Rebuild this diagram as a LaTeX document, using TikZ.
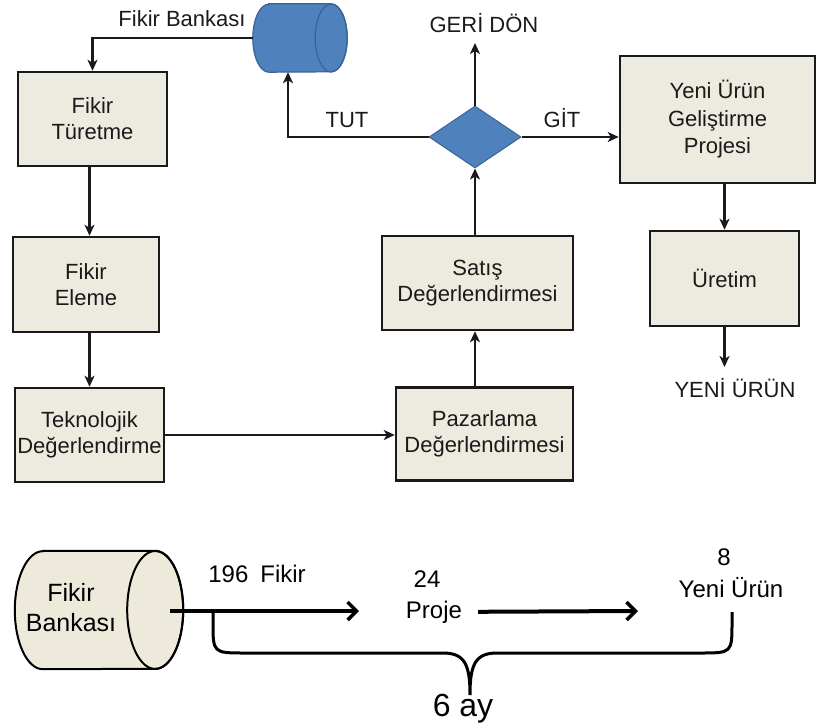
\documentclass[tikz,border=0pt]{standalone}
\usepackage{fontspec}
\setmainfont{Liberation Sans}
\usetikzlibrary{shapes.geometric,arrows.meta,calc}
\definecolor{boxfill}{HTML}{EDEBE0}
\definecolor{cylfill}{HTML}{EEEADB}
\definecolor{blu}{HTML}{4F81BD}
\definecolor{bluborder}{HTML}{3B6396}
\definecolor{ink}{HTML}{1A1A1A}
\begin{document}
\begin{tikzpicture}[x=1pt,y=-1pt,
  procbox/.style={draw=ink, line width=2.5pt, fill=boxfill, align=center, inner sep=0pt,
    font=\fontsize{22}{26}\selectfont, text=ink},
  arr/.style={draw=ink, line width=2.4pt, -{Stealth[length=11pt,width=10pt,inset=3pt]}},
  lbl/.style={font=\fontsize{22}{26}\selectfont, text=ink, anchor=base, inner sep=0pt},
  big/.style={font=\fontsize{24}{28}\selectfont, text=black, anchor=base, inner sep=0pt},
  thickarr/.style={draw=black, line width=4pt, -{Straight Barb[length=9pt,width=18pt,line width=3.5pt]}},
  ghost/.style={inner sep=0pt}
]
\useasboundingbox (0,0) rectangle (817,728);

% ---------- top flow ----------
\node[procbox, minimum width=149pt, minimum height=94pt] (tur) at (92.5,119) {Fikir\\Türetme};
\node[procbox, minimum width=146pt, minimum height=95pt] (ele) at (86,284.5) {Fikir\\Eleme};
\node[procbox, minimum width=149pt, minimum height=94pt] (tek) at (89.5,435) {Teknolojik\\Değerlendirme};
\node[procbox, minimum width=177pt, minimum height=93pt] (paz) at (484.5,434) {Pazarlama\\Değerlendirmesi};
\node[procbox, minimum width=191pt, minimum height=94pt] (sat) at (477.5,283) {Satış\\Değerlendirmesi};
\node[procbox, minimum width=195pt, minimum height=127pt, font=\fontsize{22}{27.5}\selectfont] (yen) at (717.5,119.5) {Yeni Ürün\\Geliştirme\\Projesi};
\node[procbox, minimum width=149pt, minimum height=95pt] (ure) at (724.5,278.5) {Üretim};

\node[diamond, fill=blu, draw=bluborder, line width=1pt, minimum width=92pt, minimum height=62pt, inner sep=0pt] (dec) at (475,137) {};

% top cylinder (Fikir Bankasi)
\node[ghost, minimum width=94pt, minimum height=68pt] (bank) at (300,38) {};
\filldraw[fill=blu, draw=bluborder, line width=1.2pt]
  ($(bank.north west)+(16,0)$) -- ($(bank.north east)+(-16,0)$) arc (90:-90:16pt and 34pt)
  -- ($(bank.south west)+(16,0)$) arc (270:90:16pt and 34pt) -- cycle;
\draw[bluborder, line width=1.2pt] ($(bank.east)+(-16,0)$) ellipse (16pt and 34pt);

% connectors
\draw[arr] (bank.west) -| (tur.north);
\node[lbl] at (182,26) {Fikir Bankası};
\draw[arr] (tur.south -| tek.north) -- (ele.north -| tek.north);
\draw[arr] (ele.south -| tek.north) -- (tek.north);
\draw[arr] (tek.east) -- (tek.east -| paz.west);
\draw[arr] (paz.north -| dec.south) -- (sat.south -| dec.south);
\draw[arr] (sat.north -| dec.south) -- (dec.south);
\coordinate (geri) at (475,43);
\draw[arr] (dec.north) -- (geri);
\node[lbl] at (484,32) {GERİ DÖN};
\draw[arr] (dec.east) -- (dec.east -| yen.west);
\node[lbl] at (562,127) {GİT};
\draw[arr] (dec.west) -| ($(bank.south)+(-12,0)$);
\node[lbl] at (347,127) {TUT};
\draw[arr] (yen.south -| ure.north) -- (ure.north);
\coordinate (out) at (724.5,367);
\draw[arr] (ure.south) -- (out);
\node[lbl] at (735,397) {YENİ ÜRÜN};

% ---------- bottom timeline ----------
\node[ghost, minimum width=168pt, minimum height=118pt] (bank2) at (99,610) {};
\filldraw[fill=cylfill, draw=black, line width=2pt]
  ($(bank2.north west)+(28,0)$) -- ($(bank2.north east)+(-28,0)$) arc (90:-90:28pt and 59pt)
  -- ($(bank2.south west)+(28,0)$) arc (270:90:28pt and 59pt) -- cycle;
\draw[black, line width=2pt] ($(bank2.east)+(-28,0)$) ellipse (28pt and 59pt);
\node[align=center, inner sep=0pt, font=\fontsize{25}{30}\selectfont] (banktext) at (71,608) {Fikir\\Bankası};

\node[big] (n196) at (257,582) {196\enspace Fikir};
\node[big] (n24) at (427,587) {24};
\node[big] (proje) at (434,618) {Proje};
\node[big] (n8) at (724,565) {8};
\node[big] (yeni) at (731,597) {Yeni Ürün};

\coordinate (a1end) at (359,611);
\coordinate (a2end) at (638,611);
\draw[thickarr] ($(bank2.east)+(-13,1)$) -- (a1end);
\draw[thickarr] ($(proje.east)+(16,0)$) -- (a2end);

\coordinate (bl) at (213,611);
\coordinate (br) at (732,612);
\coordinate (tip) at (470,695);
\draw[black, line width=3pt] (bl) -- (213,622) .. controls (213,653) and (213,653) .. (245,653)
  -- (443,653) .. controls (465,653) and (470,665) .. (tip)
  .. controls (470,665) and (475,653) .. (497,653)
  -- (700,653) .. controls (732,653) and (732,653) .. (732,622) -- (br);
\node[font=\fontsize{32}{36}\selectfont, anchor=base, inner sep=0pt] (six) at (463,716) {6 ay};
\end{tikzpicture}
\end{document}
